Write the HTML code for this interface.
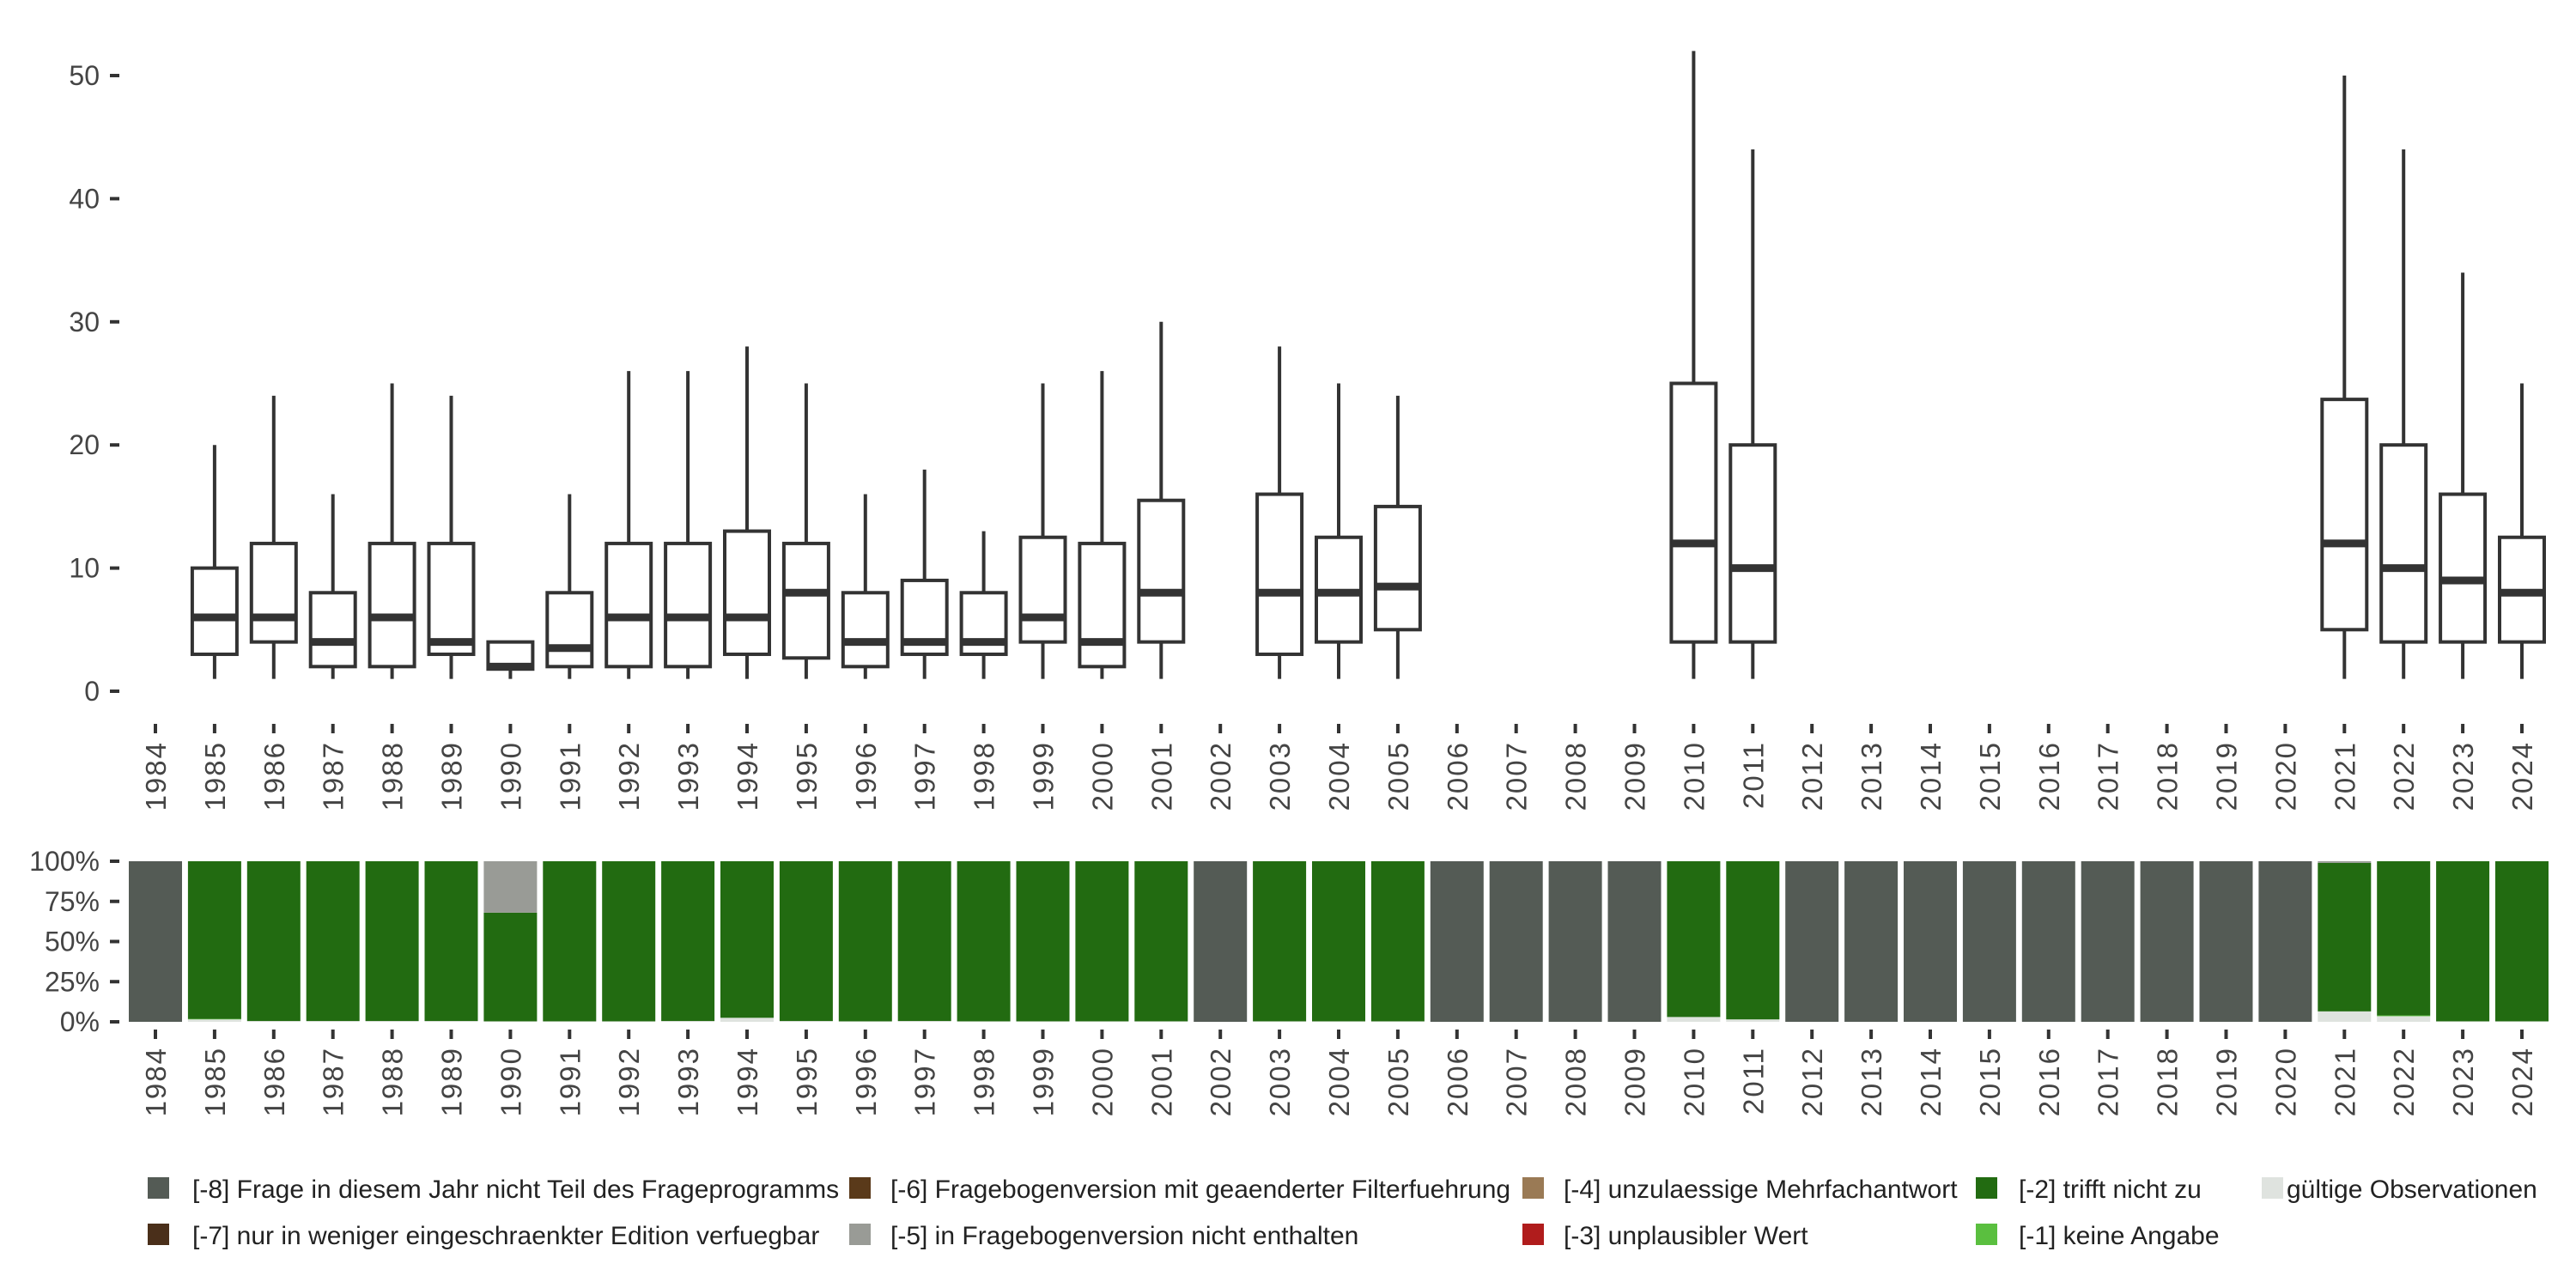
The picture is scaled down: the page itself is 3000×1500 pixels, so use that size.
<!DOCTYPE html>
<html><head><meta charset="utf-8"><style>
body{margin:0;background:#fff;}
svg{display:block;font-family:"Liberation Sans",sans-serif;}
</style></head><body>
<svg id="c" width="3000" height="1500" viewBox="0 0 3000 1500" xmlns="http://www.w3.org/2000/svg"></svg>
<script>
const years=[1984,1985,1986,1987,1988,1989,1990,1991,1992,1993,1994,1995,1996,1997,1998,1999,2000,2001,2002,2003,2004,2005,2006,2007,2008,2009,2010,2011,2012,2013,2014,2015,2016,2017,2018,2019,2020,2021,2022,2023,2024];
const boxYears=[1985,1986,1987,1988,1989,1990,1991,1992,1993,1994,1995,1996,1997,1998,1999,2000,2001,2003,2004,2005,2010,2011,2021,2022,2023,2024];
const boxMin=[1,1,1,1,1,1,1,1,1,1,1,1,1,1,1,1,1,1,1,1,1,1,1,1,1,1];
const boxQ1=[3,4,2,2,3,1.8,2,2,2,3,2.7,2,3,3,4,2,4,3,4,5,4,4,5,4,4,4];
const boxMed=[6,6,4,6,4,2,3.5,6,6,6,8,4,4,4,6,4,8,8,8,8.5,12,10,12,10,9,8];
const boxQ3=[10,12,8,12,12,4,8,12,12,13,12,8,9,8,12.5,12,15.5,16,12.5,15,25,20,23.7,20,16,12.5];
const boxMax=[20,24,16,25,24,4,16,26,26,28,25,16,18,13,25,26,30,28,25,24,52,44,50,44,34,25];
const yTicks=[0,10,20,30,40,50];
const pctTicks=[0,25,50,75,100];
// stacked shares per year (percent), bottom to top: valid, -1, -2, -5, -8
const shareValid=[0,1.5,0.5,0.5,0.5,0.5,0.3,0.3,0.3,0.5,2.5,0.5,0.3,0.5,0.3,0.3,0.3,0.3,0,0.3,0.3,0.3,0,0,0,0,3,1.5,0,0,0,0,0,0,0,0,0,6.5,3.5,0.3,0.3];
const shareM1=[0,0.3,0,0,0,0,0,0,0,0,0,0,0,0,0,0,0,0,0,0,0,0,0,0,0,0,0,0,0,0,0,0,0,0,0,0,0,0,0.5,0,0];
const shareM5=[0,0,0,0,0,0,32,0,0,0,0,0,0,0,0,0,0,0,0,0,0,0,0,0,0,0,0,0,0,0,0,0,0,0,0,0,0,1,0,0,0];
const missing=[1984,2002,2006,2007,2008,2009,2012,2013,2014,2015,2016,2017,2018,2019,2020];

const svg=document.getElementById('c');
const NS='http://www.w3.org/2000/svg';
function el(t,a,p){const e=document.createElementNS(NS,t);for(const k in a)e.setAttribute(k,a[k]);(p||svg).appendChild(e);return e;}
const xS=y=>181+(y-1984)*68.9;
const yS=v=>805-v*14.34;
const pS=v=>1190-v*1.87;
const tc='#444';

const ga=el('g',{});


yTicks.forEach(v=>{
  el('line',{x1:128,x2:139,y1:yS(v),y2:yS(v),stroke:'#333','stroke-width':4},ga);
  const t=el('text',{x:116,y:yS(v)+11,'text-anchor':'end','font-size':32,fill:tc},ga);
  
  
  t.textContent=v;
});
[[843,'top'],[1199,'bottom']].forEach(([ty,n])=>{
  const g=el('g',{});
  
  
  years.forEach(y=>{
    const x=xS(y);
    el('line',{x1:x,x2:x,y1:ty,y2:ty+11,stroke:'#333','stroke-width':4},g);
    const t=el('text',{transform:`translate(${x+12},${ty+20}) rotate(-90)`,'text-anchor':'end','font-size':33,'letter-spacing':2,fill:tc},g);
    
    
    t.textContent=y;
  });
});
const bw=52;
boxYears.forEach((y,i)=>{
  const g=el('g',{});
  
  
  const x=xS(y);
  el('line',{x1:x,x2:x,y1:yS(boxMax[i]),y2:yS(boxQ3[i]),stroke:'#333','stroke-width':4},g);
  el('line',{x1:x,x2:x,y1:yS(boxQ1[i]),y2:yS(boxMin[i]),stroke:'#333','stroke-width':4},g);
  el('rect',{x:x-bw/2,y:yS(boxQ3[i]),width:bw,height:yS(boxQ1[i])-yS(boxQ3[i]),fill:'#fff',stroke:'#333','stroke-width':4},g);
  el('line',{x1:x-bw/2,x2:x+bw/2,y1:yS(boxMed[i]),y2:yS(boxMed[i]),stroke:'#333','stroke-width':9},g);
});
const gb=el('g',{});


pctTicks.forEach(v=>{
  el('line',{x1:128,x2:139,y1:pS(v),y2:pS(v),stroke:'#333','stroke-width':4},gb);
  const t=el('text',{x:116,y:pS(v)+11,'text-anchor':'end','font-size':32,fill:tc},gb);
  
  
  t.textContent=v+'%';
});
const cols={valid:'#dfe3df',m1:'#5abf3f',m2:'#226b11',m5:'#999b96',m8:'#545b55'};
const w=62;
years.forEach((y,i)=>{
  const g=el('g',{});
  
  
  const x=xS(y)-w/2;
  let segs;
  if(missing.includes(y)) segs=[['m8',100]];
  else {
    const r=100-shareValid[i]-shareM1[i]-shareM5[i];
    segs=[['valid',shareValid[i]],['m1',shareM1[i]],['m2',r],['m5',shareM5[i]]];
  }
  let acc=0;
  segs.forEach(([k,v])=>{
    if(v<=0)return;
    el('rect',{x:x,y:pS(acc+v),width:w,height:pS(acc)-pS(acc+v),fill:cols[k]},g);
    acc+=v;
  });
});
const leg=[
 [172,224,1385,'#545b55','[-8] Frage in diesem Jahr nicht Teil des Frageprogramms'],
 [172,224,1439,'#4a2f1a','[-7] nur in weniger eingeschraenkter Edition verfuegbar'],
 [989,1037,1385,'#5a3a1a','[-6] Fragebogenversion mit geaenderter Filterfuehrung'],
 [989,1037,1439,'#999b96','[-5] in Fragebogenversion nicht enthalten'],
 [1773,1821,1385,'#9a7a55','[-4] unzulaessige Mehrfachantwort'],
 [1773,1821,1439,'#b01c1c','[-3] unplausibler Wert'],
 [2301,2351,1385,'#226b11','[-2] trifft nicht zu'],
 [2301,2351,1439,'#5abf3f','[-1] keine Angabe'],
 [2634,2663,1385,'#dfe3df','gültige Observationen']
];
const gl=el('g',{});


leg.forEach(l=>{
  const g=el('g',{},gl);
  
  
  el('rect',{x:l[0],y:l[2]-14,width:25,height:25,fill:l[3]},g);
  const t=el('text',{x:l[1],y:l[2]+10,'font-size':30,fill:'#222'},g);
  t.textContent=l[4];
});
</script>
</body></html>
